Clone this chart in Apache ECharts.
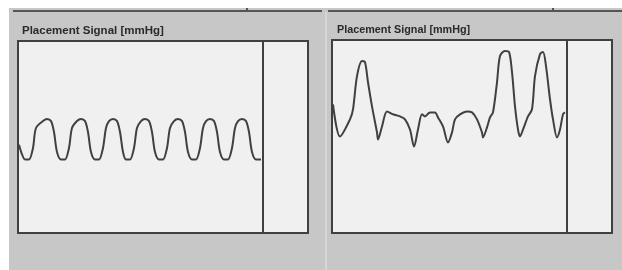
<!DOCTYPE html>
<html>
<head>
<meta charset="utf-8">
<script src="https://cdn.jsdelivr.net/npm/echarts@6/dist/echarts.min.js"></script>
<style>
  html, body { margin: 0; padding: 0; background: #fff; }
  #main { width: 622px; height: 270px; }
</style>
</head>
<body>
<div id="main"></div>
<script>
// panel titles
var titleText = 'Placement Signal [mmHg]';

// left panel: sample position and signal value (0-100 of the panel height)
var timeA = [1, 4, 7, 11, 15, 18, 25, 29, 33, 36, 39, 43, 47, 51, 54, 59, 63, 67, 70, 73, 77, 81, 85, 88, 91, 95, 99, 102, 105, 108, 112, 116, 119, 123, 127, 131, 134, 137, 141, 145, 149, 152, 156, 160, 164, 167, 170, 174, 178, 182, 185, 188, 192, 196, 199, 202, 206, 210, 214, 217, 220, 224, 228, 231, 234, 238, 243];
var signalA = [46, 41, 38.3, 38.3, 44.3, 54.7, 58.3, 59.4, 58.3, 52.6, 42.2, 38.3, 38.3, 44.3, 54.7, 58.3, 59.4, 58.3, 52.6, 42.2, 38.3, 38.3, 44.3, 54.7, 58.3, 59.4, 58.3, 52.6, 42.2, 38.3, 38.3, 44.3, 54.7, 58.3, 59.4, 58.3, 52.6, 42.2, 38.3, 38.3, 44.3, 54.7, 58.3, 59.4, 58.3, 52.6, 42.2, 38.3, 38.3, 44.3, 54.7, 58.3, 59.4, 58.3, 52.6, 42.2, 38.3, 38.3, 44.3, 54.7, 58.3, 59.4, 58.3, 52.6, 42.2, 38.3, 38.3];

// right panel
var timeB = [1, 8, 18, 21, 25, 30, 33, 36, 40, 45, 46, 50, 55, 61, 68, 73, 78, 82, 86, 90, 93, 98, 103, 106, 111, 116, 120, 123, 128, 135, 140, 145, 150, 151, 155, 158, 161, 165, 168, 173, 177, 180, 183, 186, 188, 191, 196, 200, 203, 208, 211, 214, 218, 221, 225, 228, 231, 233];
var signalB = [66.7, 50.0, 58.9, 64.1, 81.3, 89.1, 88.5, 78.1, 65.6, 52.1, 48.4, 55.2, 63.0, 61.5, 60.4, 58.9, 53.6, 44.8, 53.6, 61.5, 60.4, 62.5, 62.5, 59.9, 55.2, 46.9, 52.1, 58.9, 61.5, 63.0, 62.5, 58.9, 52.1, 49.5, 54.7, 59.9, 62.5, 78.1, 91.7, 94.3, 93.8, 83.3, 65.6, 53.6, 50.0, 53.6, 60.4, 64.1, 81.3, 92.7, 93.8, 86.5, 69.3, 58.9, 49.5, 53.6, 61.5, 62.5];

function pairs(xs, ys) {
  var arr = [];
  for (var i = 0; i < xs.length; i++) {
    arr.push([xs[i], ys[i]]);
  }
  return arr;
}

function hiddenAxis(idx, max) {
  return {
    type: 'value', gridIndex: idx, min: 0, max: max,
    axisLine: { show: false }, axisTick: { show: false },
    axisLabel: { show: false }, splitLine: { show: false }
  };
}

var lineColor = '#404040';
var boxFill = '#f0f0f0';
var boxStroke = '#404040';

var myChart = echarts.init(document.getElementById('main'));
var option = {
  backgroundColor: '#c7c7c7',
  animation: false,
  title: [
    { text: titleText, left: 22, top: 25, padding: 0, textStyle: { fontFamily: 'Liberation Sans', fontSize: 11.5, fontWeight: 'bold', color: '#2a2a2a' } },
    { text: titleText, left: 337, top: 25, padding: 0, textStyle: { fontFamily: 'Liberation Sans', fontSize: 10.8, fontWeight: 'bold', color: '#2a2a2a' } }
  ],
  grid: [
    { left: 18, top: 41, width: 245, height: 192, show: true, backgroundColor: 'transparent', borderColor: boxStroke, borderWidth: 2 },
    { left: 332, top: 40, width: 235, height: 193, show: true, backgroundColor: 'transparent', borderColor: boxStroke, borderWidth: 2 }
  ],
  xAxis: [hiddenAxis(0, 245), hiddenAxis(1, 235)],
  yAxis: [hiddenAxis(0, 100), hiddenAxis(1, 100)],
  graphic: [
    // white scan margins
    { type: 'rect', shape: { x: 0, y: 0, width: 622, height: 8 }, style: { fill: '#fff' }, z: -5 },
    { type: 'rect', shape: { x: 0, y: 0, width: 9, height: 270 }, style: { fill: '#fff' }, z: -5 },
    // top rule of the window
    { type: 'line', shape: { x1: 13, y1: 11, x2: 322, y2: 11 }, style: { stroke: '#555', lineWidth: 2 }, z: -4 },
    { type: 'line', shape: { x1: 328, y1: 11, x2: 622, y2: 11 }, style: { stroke: '#555', lineWidth: 2 }, z: -4 },
    { type: 'line', shape: { x1: 247, y1: 8, x2: 247, y2: 11 }, style: { stroke: '#555', lineWidth: 2 }, z: -4 },
    { type: 'line', shape: { x1: 553, y1: 8, x2: 553, y2: 11 }, style: { stroke: '#555', lineWidth: 2 }, z: -4 },
    // light divider between panels
    { type: 'line', shape: { x1: 326, y1: 12, x2: 326, y2: 270 }, style: { stroke: '#d6d6d6', lineWidth: 2 }, z: -4 },
    // panel boxes
    { type: 'rect', shape: { x: 18, y: 41, width: 290, height: 192 }, style: { fill: boxFill, stroke: boxStroke, lineWidth: 2 }, z: -3 },
    { type: 'rect', shape: { x: 332, y: 40, width: 280, height: 193 }, style: { fill: boxFill, stroke: boxStroke, lineWidth: 2 }, z: -3 }
  ],
  series: [
    {
      type: 'line', xAxisIndex: 0, yAxisIndex: 0, data: pairs(timeA, signalA),
      smooth: 0.3, symbol: 'none', lineStyle: { color: lineColor, width: 2 }
    },
    {
      type: 'line', xAxisIndex: 1, yAxisIndex: 1, data: pairs(timeB, signalB),
      smooth: 0.3, symbol: 'none', lineStyle: { color: lineColor, width: 2 }
    }
  ]
};
myChart.setOption(option);
</script>
</body>
</html>
